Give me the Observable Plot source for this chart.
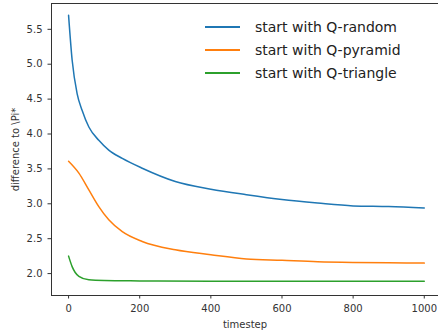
<!DOCTYPE html>
<html><head><meta charset="utf-8">
<script src="https://cdn.jsdelivr.net/npm/d3@7"></script>
<script src="https://cdn.jsdelivr.net/npm/@observablehq/plot@0.6"></script>
<style>
body{margin:0;background:#fff;font-family:"DejaVu Sans",sans-serif;}
#wrap{position:relative;width:438px;height:330px;}
#legend{position:absolute;left:205px;top:15px;font-size:14px;color:#222;}
#legend .row{display:flex;align-items:center;height:23px;}
#legend .sw{width:35px;height:2px;margin-right:15px;}
</style></head>
<body><div id="wrap"><div id="legend"></div></div>
<script>
const seriesNames = ["start with Q-random", "start with Q-pyramid", "start with Q-triangle"];
const seriesColors = ["#1f77b4", "#ff7f0e", "#2ca02c"];
const randomT = [0, 10, 24, 38, 57, 85, 113, 151, 207, 300, 400, 500, 600, 700, 800, 900, 1000];
const randomV = [5.7, 5.06, 4.58, 4.34, 4.10, 3.91, 3.77, 3.65, 3.51, 3.32, 3.21, 3.13, 3.06, 3.01, 2.97, 2.96, 2.94];
const pyramidT = [0, 29, 57, 85, 113, 151, 207, 300, 400, 500, 600, 700, 800, 900, 1000];
const pyramidV = [3.61, 3.44, 3.2, 2.96, 2.77, 2.60, 2.46, 2.34, 2.27, 2.21, 2.19, 2.17, 2.16, 2.155, 2.15];
const triangleT = [0, 10, 29, 57, 100, 200, 400, 600, 800, 1000];
const triangleV = [2.25, 2.10, 1.96, 1.91, 1.9, 1.895, 1.89, 1.89, 1.89, 1.89];
const xTicks = [0, 200, 400, 600, 800, 1000];
const yTicks = [2.0, 2.5, 3.0, 3.5, 4.0, 4.5, 5.0, 5.5];
const xDomain = [-48, 1040];
const yDomain = [1.686, 5.87];

const rows = [];
[[randomT, randomV], [pyramidT, pyramidV], [triangleT, triangleV]].forEach(([t, v], i) => {
  t.forEach((tt, j) => rows.push({t: tt, v: v[j], s: seriesNames[i]}));
});

const plot = Plot.plot({
  width: 438, height: 330,
  marginLeft: 51, marginRight: 0, marginTop: 3, marginBottom: 35,
  style: {fontFamily: "DejaVu Sans, sans-serif", fontSize: "10px", color: "#333"},
  x: {domain: xDomain, ticks: xTicks, tickSize: 3.5, tickFormat: d3.format("d"), label: "timestep", labelAnchor: "center", labelArrow: "none", labelOffset: 32},
  y: {domain: yDomain, ticks: yTicks, tickSize: 3.5, tickFormat: d3.format(".1f"), label: "difference to \\Pi*", labelAnchor: "center", labelArrow: "none", labelOffset: 40},
  color: {domain: seriesNames, range: seriesColors},
  marks: [
    Plot.ruleX([xDomain[0]], {stroke: "#333", strokeWidth: 1}),
    Plot.ruleY([yDomain[0], yDomain[1]], {stroke: "#333", strokeWidth: 1}),
    Plot.line(rows, {x: "t", y: "v", z: "s", stroke: "s", strokeWidth: 1.5, curve: "monotone-x"})
  ]
});
document.getElementById("wrap").prepend(plot);
const leg = document.getElementById("legend");
seriesNames.forEach((n, i) => {
  const r = document.createElement("div"); r.className = "row";
  const s = document.createElement("span"); s.className = "sw"; s.style.background = seriesColors[i];
  const t = document.createElement("span"); t.textContent = n;
  r.append(s, t); leg.append(r);
});
</script></body></html>
